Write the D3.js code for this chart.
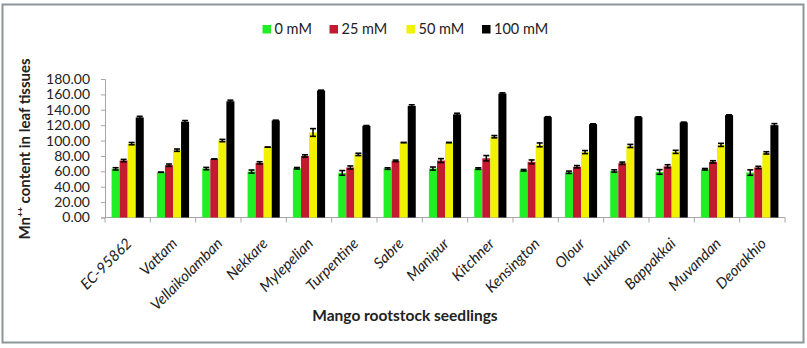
<!DOCTYPE html>
<html><head><meta charset="utf-8">
<script src="https://cdn.jsdelivr.net/npm/d3@7"></script>
<style>
html,body{margin:0;padding:0;background:#fff;}
svg{display:block;font-family:Lato,"Open Sans",sans-serif;}
</style></head>
<body>
<svg id="c" width="807" height="348"></svg>
<script>
const categories = ["EC-95862","Vattam","Vellaikolamban","Nekkare","Mylepelian","Turpentine","Sabre","Manipur","Kitchner","Kensington","Olour","Kurukkan","Bappakkai","Muvandan","Deorakhio"];
const seriesNames = ["0 mM","25 mM","50 mM","100 mM"];
const mM0   = [63.2,58.8,63.6,59.7,64.0,58.0,63.6,63.6,63.6,61.4,58.8,60.5,59.2,62.7,58.4];
const mM25  = [74.0,68.0,76.0,71.0,80.0,65.0,73.6,74.0,77.0,72.3,66.0,70.5,66.6,72.3,65.0];
const mM50  = [96.0,87.5,100.0,91.4,110.5,82.0,97.4,97.4,105.0,94.4,85.0,93.0,85.3,94.4,84.0];
const mM100 = [130.0,124.5,151.0,126.0,165.0,119.0,145.0,134.0,161.0,130.5,121.3,130.4,123.5,133.0,120.0];
const err0   = [1.5,0,1.5,2.0,1.0,3.0,1.0,2.0,1.0,1.0,1.5,1.5,3.0,1.0,3.5];
const err25  = [1.5,1.5,0,1.5,1.5,2.0,1.0,2.5,3.5,2.5,1.5,1.5,2.0,1.5,1.5];
const err50  = [1.5,1.5,1.5,0,5.0,1.5,0,0,1.5,2.5,2.0,2.0,2.0,2.0,1.5];
const err100 = [1.5,1.5,1.5,0.5,0.5,0.5,1.5,1.5,1.0,0.5,0.5,0.5,0.5,0.5,2.0];
const yTicks = [0,20,40,60,80,100,120,140,160,180];
const colors = ["#22ee22","#c41a30","#f2f200","#000000"];

const values = [mM0,mM25,mM50,mM100];
const errs = [err0,err25,err50,err100];

const svg = d3.select("#c");
svg.append("rect").attr("x",2.5).attr("y",4.5).attr("width",801).attr("height",338)
  .attr("fill","#fff").attr("stroke","#8c9696").attr("stroke-width",2);

const pLeft=105,pRight=785,pTop=79,pBottom=217.5;
const x0 = d3.scaleBand().domain(categories).range([pLeft,pRight]).paddingInner(0.29).paddingOuter(0.145);
const x1 = d3.scaleBand().domain(seriesNames).range([0,x0.bandwidth()]);
const y = d3.scaleLinear().domain([0,180]).range([pBottom,pTop]);

const yAxis = svg.append("g").attr("transform",`translate(${pLeft},0)`)
  .call(d3.axisLeft(y).tickValues(yTicks).tickFormat(d3.format(".2f")).tickSizeOuter(0).tickSize(4).tickPadding(11));
yAxis.select(".domain").attr("stroke","#a6a6a6");
yAxis.selectAll(".tick line").attr("stroke","#a6a6a6");
yAxis.selectAll("text").attr("font-size",14).attr("fill","#222").attr("font-family","Lato");

const xb = d3.scaleLinear().domain([0,categories.length]).range([pLeft,pRight]);
const xAxisG = svg.append("g");
xAxisG.append("line").attr("x1",pLeft).attr("x2",pRight).attr("y1",pBottom).attr("y2",pBottom).attr("stroke","#a6a6a6");
xAxisG.selectAll("line.t").data(d3.range(categories.length+1)).join("line").attr("class","t")
  .attr("x1",d=>xb(d)).attr("x2",d=>xb(d)).attr("y1",pBottom).attr("y2",pBottom+5).attr("stroke","#a6a6a6");

const g = svg.append("g");
categories.forEach((c,i)=>{
  seriesNames.forEach((s,j)=>{
    const v = values[j][i], e = errs[j][i];
    const bx = x0(c)+x1(s), bw = x1.bandwidth();
    g.append("rect").attr("x",bx).attr("y",y(v)).attr("width",bw).attr("height",y(0)-y(v)).attr("fill",colors[j]);
    const cx = bx+bw/2, cw = 3;
    const yt = y(v+e), yb = y(v-e);
    g.append("line").attr("x1",cx).attr("x2",cx).attr("y1",yt).attr("y2",yb).attr("stroke","#000").attr("stroke-width",1.5);
    g.append("line").attr("x1",cx-cw).attr("x2",cx+cw).attr("y1",yt).attr("y2",yt).attr("stroke","#000").attr("stroke-width",1.6);
    g.append("line").attr("x1",cx-cw).attr("x2",cx+cw).attr("y1",yb).attr("y2",yb).attr("stroke","#000").attr("stroke-width",1.6);
  });
});

svg.append("g").selectAll("text").data(categories).join("text")
  .attr("transform",d=>`translate(${x0(d)+x0.bandwidth()/2+5},${pBottom+27}) rotate(-45)`)
  .attr("text-anchor","end").attr("font-style","italic").attr("font-size",15).attr("fill","#222")
  .text(d=>d);

svg.append("text").attr("x",405).attr("y",321).attr("text-anchor","middle")
  .attr("font-weight","bold").attr("font-size",15.5).attr("fill","#222").text("Mango rootstock seedlings");
svg.append("text").attr("transform","translate(30,149) rotate(-90)").attr("text-anchor","middle")
  .attr("font-weight","bold").attr("font-size",15).attr("fill","#222").text("Mn⁺⁺ content in leaf tissues");

const legX = [262.5,329.5,406.5,482];
const leg = svg.append("g");
seriesNames.forEach((s,j)=>{
  leg.append("rect").attr("x",legX[j]).attr("y",25).attr("width",8.5).attr("height",8.5).attr("fill",colors[j]);
  leg.append("text").attr("x",legX[j]+12).attr("y",34).attr("font-size",14.5).attr("fill","#222").text(s);
});
</script>
</body></html>
